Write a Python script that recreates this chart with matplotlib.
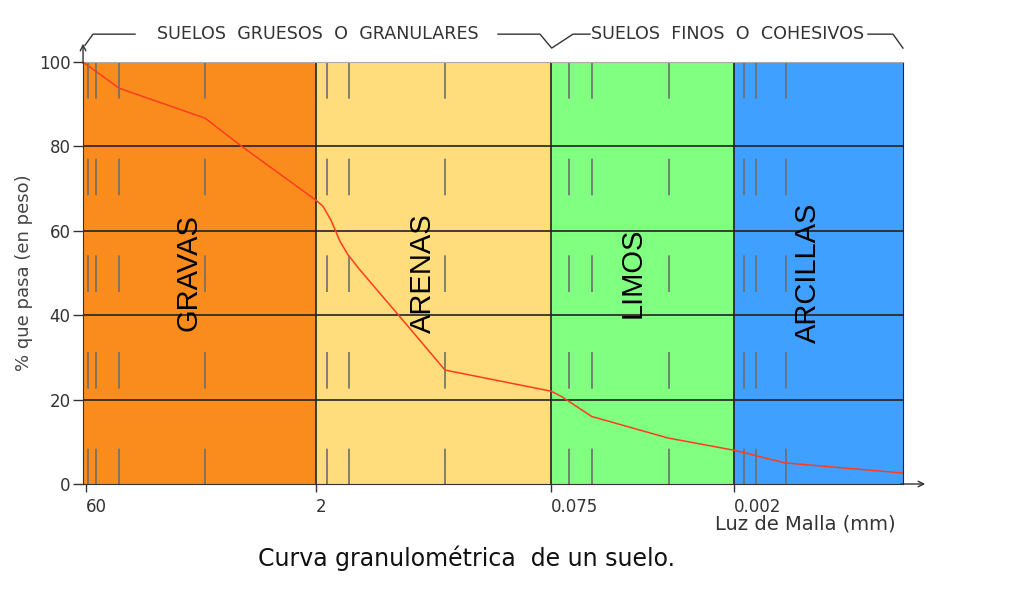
import numpy as np
import matplotlib.pyplot as plt

# eje x esquematico (posicion relativa a lo largo del grafico)
zonas = ["GRAVAS", "ARENAS", "LIMOS", "ARCILLAS"]
bordes = [0, 233, 468, 651, 820]
colores = ["#fa8c1e", "#ffdc7c", "#80ff80", "#40a0ff"]

# lineas de tamices (discontinuas)
tamices = [5, 13, 36, 122, 244, 266, 362, 486, 509, 586, 661, 673, 703]

# curva granulometrica
curva_x = [0, 36, 122, 158.7, 232.7, 240, 248, 257, 265, 277, 317, 362, 468, 478.7, 508.7, 585, 651, 702, 820]
curva_y = [100, 93.8, 86.7, 80, 67.3, 65.8, 62.5, 57.5, 54.3, 50.7, 39.6, 27.0, 22.0, 20.7, 16.0, 10.9, 8.0, 5.0, 2.6]

xt_pos = [3, 233, 468, 651]
xt_lab = ["60", "2", "0.075", "0.002"]
yt = [0, 20, 40, 60, 80, 100]

fig = plt.figure(figsize=(10.24, 5.94), dpi=100)
ax = fig.add_axes([0.0811, 0.1852, 0.8007, 0.7104])
ax.set_xlim(0, 820)
ax.set_ylim(0, 100)

for i in range(len(zonas)):
    ax.axvspan(bordes[i], bordes[i+1], color=colores[i], zorder=0)
    if i > 0:
        ax.axvline(bordes[i], color="#222222", lw=1.2, zorder=2)

for y in yt[1:-1]:
    ax.axhline(y, color="#222222", lw=1.2, zorder=2)

for xv in tamices:
    ax.plot([xv, xv], [100, 0], color="#6e6e6e", lw=1.2, dashes=(22, 36), zorder=1)

ax.plot(curva_x, curva_y, color="#ff3c1e", lw=1.1, zorder=3)

# nombres de zonas
etiq_x = [105, 340, 550, 725]
for i in range(len(zonas)):
    ax.text(etiq_x[i], 50, zonas[i], rotation=90, ha="center", va="center",
            fontsize=21, family="Liberation Sans", color="black", zorder=4)

ax.set_yticks(yt)
ax.set_yticklabels([str(v) for v in yt], fontsize=12, color="#333333")
ax.set_xticks(xt_pos)
ax.set_xticklabels(xt_lab, fontsize=12, color="#333333", ha="left")
ax.tick_params(axis="y", length=7, width=1, color="#333333", pad=2)
ax.tick_params(axis="x", length=6, width=1, color="#333333", pad=4)

ax.spines["top"].set_color("#aaaaaa")
ax.spines["right"].set_color("#222222")
ax.spines["left"].set_color("#333333")
ax.spines["bottom"].set_color("#333333")

ax.set_ylabel("% que pasa (en peso)", fontsize=13, color="#444444", labelpad=4)
ax.text(813, -9.5, "Luz de Malla (mm)", ha="right", va="center", fontsize=14,
        color="#333333", clip_on=False)

# flechas de los ejes
ax.annotate("", xy=(845, 0), xytext=(815, 0),
            arrowprops=dict(arrowstyle="->", color="#333333", lw=1), annotation_clip=False)
ax.annotate("", xy=(0, 105), xytext=(0, 99),
            arrowprops=dict(arrowstyle="->", color="#333333", lw=1), annotation_clip=False)

# llaves superiores
lc = "#333333"
ax.plot([2, 10, 52], [104, 106.6, 106.6], color=lc, lw=1, clip_on=False)
ax.plot([415, 457, 468.7, 490, 507], [106.6, 106.6, 103.3, 106.6, 106.6], color=lc, lw=1, clip_on=False)
ax.plot([785, 810, 820], [106.6, 106.6, 103.3], color=lc, lw=1, clip_on=False)
ax.text(234.5, 106.6, "SUELOS  GRUESOS  O  GRANULARES", ha="center", va="center",
        fontsize=12.6, color=lc, clip_on=False)
ax.text(644.5, 106.6, "SUELOS  FINOS  O  COHESIVOS", ha="center", va="center",
        fontsize=12.6, color=lc, clip_on=False)

fig.text(0.456, 0.06, "Curva granulométrica  de un suelo.", ha="center", va="center",
         fontsize=17, color="#111111")

fig.savefig("out.png", dpi=100)
